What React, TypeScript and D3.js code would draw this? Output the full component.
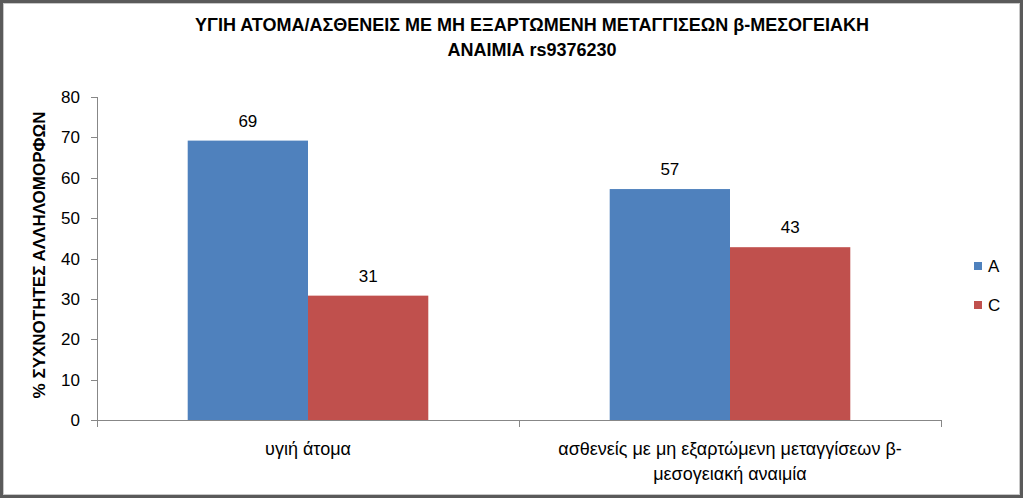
import React from "react";
import * as d3 from "d3";

const categories = ["υγιή άτομα", "ασθενείς με μη εξαρτώμενη μεταγγίσεων β-|μεσογειακή αναιμία"];
const seriesNames = ["A", "C"];
const seriesA = [69.2, 57.2];
const seriesC = [30.8, 42.8];
const yTicks = [0, 10, 20, 30, 40, 50, 60, 70, 80];
const colors = ["#4F81BD", "#C0504D"];
const titleLines = ["ΥΓΙΗ ΑΤΟΜΑ/ΑΣΘΕΝΕΙΣ ΜΕ ΜΗ ΕΞΑΡΤΩΜΕΝΗ ΜΕΤΑΓΓΙΣΕΩΝ β-ΜΕΣΟΓΕΙΑΚΗ", "ΑΝΑΙΜΙΑ rs9376230"];
const yLabel = "% ΣΥΧΝΟΤΗΤΕΣ ΑΛΛΗΛΟΜΟΡΦΩΝ";

const W = 1023, H = 498;
const font = "'Liberation Sans', Arial, sans-serif";

export default function App() {
  const x0 = d3.scaleBand().domain(categories).range([97, 941]).paddingInner(0).paddingOuter(0);
  const x1 = d3.scaleBand().domain(seriesNames).range([0, x0.bandwidth()]).paddingInner(0).paddingOuter(0.754);
  const y = d3.scaleLinear().domain([0, 80]).range([420, 97]);
  const series = [seriesA, seriesC];

  return (
    <svg width={W} height={H} style={{ position: "absolute", left: 0, top: 0 }} fontFamily={font}>
      <rect x={0} y={0} width={W} height={H} fill="#fff" />
      <rect x={1.5} y={1.5} width={W - 3} height={H - 3} fill="none" stroke="#5a5a5a" strokeWidth={3} />
      <rect x={3.5} y={3.5} width={W - 7} height={H - 7} fill="none" stroke="#c8c8c8" strokeWidth={1} />
      {titleLines.map((t, i) => (
        <text key={i} x={532} y={31 + i * 25} textAnchor="middle" fontSize={18} fontWeight="bold" fill="#000">{t}</text>
      ))}
      <text transform={`translate(45,255) rotate(-90)`} textAnchor="middle" fontSize={17} fontWeight="bold" fill="#000">{yLabel}</text>
      {yTicks.map((t) => (
        <g key={t}>
          <line x1={91} x2={97} y1={Math.round(y(t)) + 0.5} y2={Math.round(y(t)) + 0.5} stroke="#878787" />
          <text x={80} y={y(t) + 6} textAnchor="end" fontSize={17} fill="#000">{t}</text>
        </g>
      ))}
      {categories.map((c, ci) => (
        <g key={c}>
          {series.map((s, si) => {
            const bx = (x0(c) as number) + (x1(seriesNames[si]) as number);
            return (
              <g key={si}>
                <rect x={bx} y={y(s[ci])} width={x1.bandwidth()} height={y(0) - y(s[ci])} fill={colors[si]} />
                <text x={bx + x1.bandwidth() / 2} y={y(s[ci]) - 14} textAnchor="middle" fontSize={17} fill="#000">{Math.round(s[ci])}</text>
              </g>
            );
          })}
          {c.split("|").map((line, li) => (
            <text key={li} x={(x0(c) as number) + x0.bandwidth() / 2} y={455 + li * 25} textAnchor="middle" fontSize={18} fill="#000">{line}</text>
          ))}
        </g>
      ))}
      <line x1={97.5} x2={97.5} y1={97} y2={427} stroke="#878787" />
      <line x1={97} x2={941} y1={420.5} y2={420.5} stroke="#878787" />
      {categories.map((c) => (x0(c) as number) + x0.bandwidth()).map((tx, i) => (
        <line key={i} x1={Math.round(tx) + 0.5} x2={Math.round(tx) + 0.5} y1={420} y2={427} stroke="#878787" />
      ))}
      {seriesNames.map((n, i) => (
        <g key={n}>
          <rect x={974} y={262 + i * 39} width={8} height={8} fill={colors[i]} />
          <text x={988} y={272 + i * 39} fontSize={17} fill="#000">{n}</text>
        </g>
      ))}
    </svg>
  );
}
